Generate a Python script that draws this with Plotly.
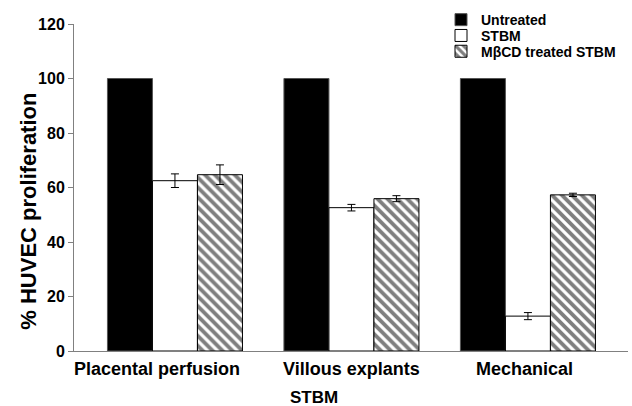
import plotly.graph_objects as go

categories = ["Placental perfusion", "Villous explants", "Mechanical"]
series_names = ["Untreated", "STBM", "M\u03b2CD treated STBM"]
untreated = [100, 100, 100]
stbm = [62.5, 52.6, 12.8]
stbm_err = [2.5, 1.2, 1.3]
mbcd = [64.7, 55.9, 57.3]
mbcd_err = [3.6, 1.1, 0.6]
y_ticks = [0, 20, 40, 60, 80, 100, 120]

xpos = list(range(len(categories)))
FONT = "Liberation Sans, Arial, sans-serif"

fig = go.Figure()
fig.add_trace(go.Bar(
    x=xpos, y=untreated, name="<b>%s</b>" % series_names[0], legend="legend",
    marker=dict(color="black", line=dict(color="#555", width=1)),
))
fig.add_trace(go.Bar(
    x=xpos, y=stbm, name="<b>%s</b>" % series_names[1], legend="legend2",
    marker=dict(color="white", line=dict(color="black", width=1)),
    error_y=dict(type="data", array=stbm_err, color="black", thickness=1, width=4),
))
fig.add_trace(go.Bar(
    x=xpos, y=mbcd, name="<b>%s</b>" % series_names[2], legend="legend3",
    marker=dict(color="white", line=dict(color="black", width=1),
                pattern=dict(shape="\\", fgcolor="black", bgcolor="white", size=7, solidity=0.55)),
    error_y=dict(type="data", array=mbcd_err, color="black", thickness=1, width=4),
))

# category labels (placed as text under the axis)
label_shift = [-18, 0, -3]
for i, c in enumerate(categories):
    fig.add_annotation(x=i, y=0, xref="x", yref="y", text="<b>%s</b>" % c,
                       showarrow=False, yanchor="top", yshift=-6, xshift=label_shift[i],
                       font=dict(family=FONT, size=18, color="black"))

fig.add_annotation(x=(314 - 74) / 554, y=(351 - 398) / 331, xref="paper", yref="paper",
                   text="<b>STBM</b>", showarrow=False, xanchor="center", yanchor="middle",
                   font=dict(family=FONT, size=17, color="black"))
fig.add_annotation(x=(29 - 74) / 554, y=(351 - 210) / 331, xref="paper", yref="paper",
                   text="<b>% HUVEC proliferation</b>", showarrow=False, textangle=-90,
                   xanchor="center", yanchor="middle",
                   font=dict(family=FONT, size=22, color="black"))

leg_common = dict(x=(441 - 74) / 554, xanchor="left", yanchor="middle",
                  bgcolor="rgba(0,0,0,0)", itemwidth=30,
                  font=dict(family=FONT, size=14, color="black"))
fig.update_layout(
    width=632, height=406,
    margin=dict(l=74, r=4, t=20, b=55),
    paper_bgcolor="white", plot_bgcolor="white",
    barmode="group", bargap=0.235, bargroupgap=0,
    font=dict(family=FONT, color="black"),
    showlegend=True,
    legend=dict(y=(351 - 16) / 331, **leg_common),
    legend2=dict(y=(351 - 32) / 331, **leg_common),
    legend3=dict(y=(351 - 48) / 331, **leg_common),
    xaxis=dict(range=[-0.572, 2.567], showticklabels=False, showgrid=False,
               zeroline=False, showline=True, linecolor="#808080", linewidth=1,
               ticks="", fixedrange=True),
    yaxis=dict(range=[0, 120], tickvals=y_ticks, ticktext=["<b>%d</b>" % v for v in y_ticks],
               showgrid=False, zeroline=False, showline=True, linecolor="#808080",
               linewidth=1, ticks="outside", ticklen=5, tickcolor="#808080",
               tickfont=dict(family=FONT, size=16, color="black")),
)

fig.write_html("out.html", config={"displayModeBar": False},
               post_script="document.body.style.margin='0';document.body.style.overflow='hidden';")
